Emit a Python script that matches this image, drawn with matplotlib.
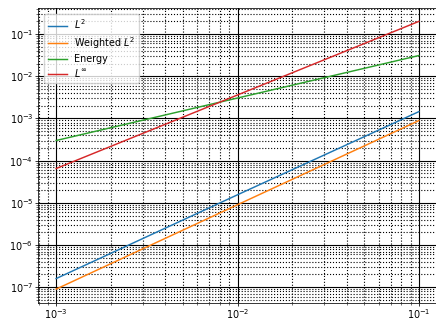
import numpy as np
import matplotlib
matplotlib.use("Agg")
import matplotlib.pyplot as plt

# mesh sizes and error values (log-log straight lines)
h = [1e-3, 1e-2, 1e-1]
err_l2 = [1.6e-7, 1.55e-5, 1.45e-3]
err_weighted_l2 = [9.0e-8, 9.0e-6, 8.9e-4]
err_energy = [3.0e-4, 3.05e-3, 3.1e-2]
err_linf = [6.5e-5, 3.6e-3, 2.0e-1]

labels = [r"$L^2$", r"Weighted $L^2$", "Energy", r"$L^\infty$"]
y_decades = [1e-7, 1e-6, 1e-5, 1e-4, 1e-3, 1e-2, 1e-1]

plt.rcParams["font.size"] = 6.9

fig = plt.figure(figsize=(4.36, 3.2), dpi=100)
ax = fig.add_axes([38 / 436, 17.5 / 320, (437 - 38) / 436, (302.5 - 8) / 320])

for y, lab in zip([err_l2, err_weighted_l2, err_energy, err_linf], labels):
    ax.loglog(h, y, label=lab, linewidth=1.05)

ax.set_xticks(h)
ax.set_yticks(y_decades)

ax.grid(True, which="major", color="k", linestyle="-", linewidth=0.8)
ax.grid(True, which="minor", color="k", linestyle=":", linewidth=0.8)
ax.tick_params(width=0.55, length=2.4, pad=1.0)
ax.tick_params(which="minor", width=0.4, length=1.4)
for s in ax.spines.values():
    s.set_linewidth(0.55)

ax.legend(loc="upper left", borderaxespad=0.6, labelspacing=0.35)

fig.savefig("out.png", dpi=100)
